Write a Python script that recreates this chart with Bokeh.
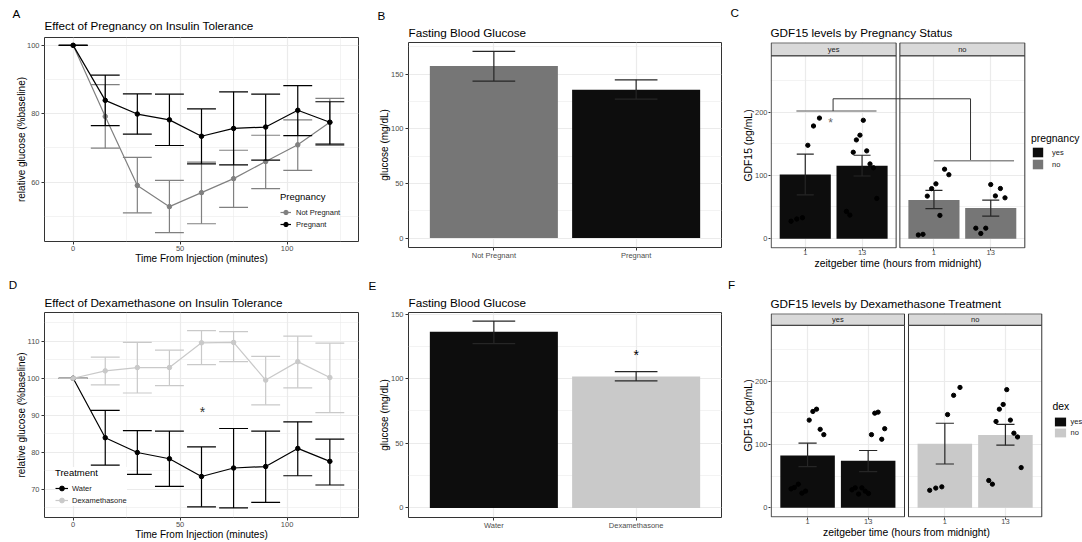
import numpy as np
from bokeh.plotting import figure
from bokeh.models import FixedTicker, Legend, LegendItem, Range1d, Title
from bokeh.layouts import row, column
from bokeh.embed import file_html
from bokeh.resources import INLINE
from bokeh.core.properties import value

FONT = "Liberation Sans"
BLACK = "#0d0d0d"
GREY = "#767676"
LIGHT = "#c9c9c9"
LINE_GREY = "#808080"
ERR = "#262626"

# ---------------- data ----------------
itt_time = [0, 15, 30, 45, 60, 75, 90, 105, 120]
# A: insulin tolerance by pregnancy
itt_preg_mean = [100, 83.9, 79.9, 78.2, 73.4, 75.7, 76.1, 81.0, 77.5]
itt_preg_upper = [100, 91.3, 85.8, 85.7, 81.4, 86.4, 85.7, 88.2, 83.5]
itt_preg_lower = [100, 76.5, 74.0, 70.7, 65.3, 65.0, 66.4, 73.6, 71.1]
itt_notpreg_mean = [100, 79.2, 59.0, 52.8, 56.9, 61.0, 66.0, 70.9, 77.5]
itt_notpreg_upper = [100, 88.5, 67.2, 60.5, 65.8, 69.3, 73.7, 78.2, 84.5]
itt_notpreg_lower = [100, 69.9, 51.0, 45.2, 47.8, 52.6, 58.1, 63.4, 70.7]
# D: insulin tolerance by dexamethasone
itt_water_mean = [100, 83.9, 79.9, 78.2, 73.4, 75.7, 76.1, 81.0, 77.5]
itt_water_upper = [100, 91.3, 85.8, 85.7, 81.4, 86.4, 85.7, 88.2, 83.5]
itt_water_lower = [100, 76.5, 74.0, 70.7, 65.2, 64.9, 66.4, 73.6, 71.1]
itt_dex_mean = [100, 102.0, 102.9, 102.9, 109.6, 109.7, 99.5, 104.5, 100.2]
itt_dex_upper = [100, 105.7, 109.7, 107.6, 112.9, 112.6, 105.9, 111.4, 109.5]
itt_dex_lower = [100, 98.2, 96.0, 98.0, 103.7, 104.5, 92.8, 97.4, 90.7]
itt_star_x, itt_star_y = 60.5, 91.7

# B: fasting blood glucose by pregnancy
fbg_preg_groups = ["Not Pregnant", "Pregnant"]
fbg_preg_mean = [157.3, 135.7]
fbg_preg_upper = [170.7, 144.8]
fbg_preg_lower = [143.6, 127.2]
# E: fasting blood glucose by treatment
fbg_dex_groups = ["Water", "Dexamethasone"]
fbg_dex_mean = [136.3, 101.6]
fbg_dex_upper = [144.6, 105.5]
fbg_dex_lower = [127.1, 98.3]
fbg_dex_star_y = 120.4

# C / F: GDF15 by zeitgeber time
zt_labels = ["1", "13"]
facet_labels = ["yes", "no"]
# pregnancy = yes
gdf_preg_yes_mean = [101.3, 115.0]
gdf_preg_yes_upper = [133.7, 131.8]
gdf_preg_yes_lower = [69.2, 99.0]
gdf_preg_yes_zt1_y = [27.5, 31.0, 33.0, 147.5, 178.0, 190.5]
gdf_preg_yes_zt1_dx = [-0.25, -0.15, -0.05, 0.045, 0.145, 0.25]
gdf_preg_yes_zt13_y = [43.0, 37.2, 136.5, 156.0, 163.5, 187.0, 138.7, 118.0, 112.0, 63.5]
gdf_preg_yes_zt13_dx = [-0.275, -0.215, -0.155, -0.1, -0.037, 0.022, 0.082, 0.14, 0.2, 0.26]
# pregnancy = no
gdf_preg_no_mean = [61.2, 48.6]
gdf_preg_no_upper = [76.1, 60.9]
gdf_preg_no_lower = [47.5, 35.7]
gdf_preg_no_zt1_y = [5.8, 6.8, 67.2, 79.0, 86.6, 36.7, 109.7, 101.0]
gdf_preg_no_zt1_dx = [-0.275, -0.193, -0.117, -0.041, 0.035, 0.105, 0.187, 0.263]
gdf_preg_no_zt13_y = [16.5, 8.1, 16.5, 85.5, 67.5, 79.2, 64.5]
gdf_preg_no_zt13_dx = [-0.263, -0.175, -0.088, 0.0, 0.082, 0.17, 0.251]
# dex = yes
gdf_dex_yes_mean = [82.7, 74.3]
gdf_dex_yes_upper = [102.1, 90.6]
gdf_dex_yes_lower = [64.9, 57.1]
gdf_dex_yes_zt1_y = [29.8, 31.9, 37.2, 23.0, 26.2, 138.7, 152.4, 156.0, 124.1, 115.7]
gdf_dex_yes_zt1_dx = [-0.273, -0.219, -0.153, -0.093, -0.033, 0.027, 0.087, 0.148, 0.208, 0.268]
gdf_dex_yes_zt13_y = [28.3, 31.4, 21.5, 31.4, 26.2, 22.5, 115.7, 149.7, 151.3, 108.4, 125.1]
gdf_dex_yes_zt13_dx = [-0.268, -0.213, -0.158, -0.104, -0.049, 0.005, 0.055, 0.109, 0.164, 0.224, 0.273]
# dex = no
gdf_dex_no_mean = [101.3, 115.0]
gdf_dex_no_upper = [133.7, 131.8]
gdf_dex_no_lower = [69.2, 99.0]
gdf_dex_no_zt1_y = [27.5, 31.0, 33.0, 147.5, 178.0, 190.5]
gdf_dex_no_zt1_dx = [-0.25, -0.15, -0.05, 0.045, 0.145, 0.25]
gdf_dex_no_zt13_y = [43.0, 37.2, 136.5, 156.0, 163.5, 187.0, 138.7, 118.0, 112.0, 63.5]
gdf_dex_no_zt13_dx = [-0.275, -0.215, -0.155, -0.1, -0.037, 0.022, 0.082, 0.14, 0.2, 0.26]
# significance annotations in C
brk_yes_x = [0.844, 2.254]
brk_yes_y = 201.6
brk_top_y = 221.0
brk_yes_stem_x = 1.49
brk_no_stem_x = 1.644
brk_no_x = [1.0, 2.41]
brk_no_y = 123.0
gdf_star_x, gdf_star_y = 1.445, 186.9


# ---------------- helpers ----------------
def make_fig(width, height, xr, yr, left, right, top, bottom,
             tag, tag_offset, tag_standoff, title, title_standoff):
    p = figure(width=width, height=height, x_range=xr, y_range=yr,
               output_backend="svg", toolbar_location=None,
               min_border_left=left, min_border_right=right,
               min_border_top=top, min_border_bottom=bottom, title=tag)
    # panel tag (outermost title)
    p.title.text_font = FONT
    p.title.text_font_size = "11.7px"
    p.title.text_font_style = "normal"
    p.title.text_color = "black"
    p.title.align = "left"
    p.title.vertical_align = "middle"
    p.title.offset = tag_offset
    p.title.standoff = tag_standoff
    # plot title (next to the panel)
    t = Title(text=title, text_font=FONT, text_font_size="11.7px", text_font_style="normal",
              text_color="black", align="left", vertical_align="top", offset=0,
              standoff=title_standoff)
    p.add_layout(t, "above")
    p.outline_line_color = "#333333"
    p.outline_line_width = 1
    p.background_fill_color = "white"
    p.border_fill_color = "white"
    for g in (p.xgrid, p.ygrid):
        g.grid_line_color = "#ebebeb"
        g.grid_line_width = 1.2
        g.minor_grid_line_color = "#ebebeb"
        g.minor_grid_line_width = 0.6
    for ax in p.axis:
        ax.axis_line_color = None
        ax.major_tick_line_color = "#333333"
        ax.major_tick_in = 0
        ax.major_tick_out = 3
        ax.minor_tick_in = 0
        ax.minor_tick_out = 0
        ax.major_label_text_font = FONT
        ax.major_label_text_font_size = "7.5px"
        ax.major_label_text_color = "#4d4d4d"
        ax.axis_label_text_font = FONT
        ax.axis_label_text_font_size = "10px"
        ax.axis_label_text_font_style = "normal"
        ax.axis_label_text_color = "black"
    return p


def errorbars(p, x, lo, hi, half, color, width):
    x = np.asarray(x, dtype=float)
    p.segment(x0=x, y0=lo, x1=x, y1=hi, line_color=color, line_width=width)
    p.segment(x0=x - half, y0=hi, x1=x + half, y1=hi, line_color=color, line_width=width)
    p.segment(x0=x - half, y0=lo, x1=x + half, y1=lo, line_color=color, line_width=width)


def star(p, x, y, size, color):
    p.text(x=[x], y=[y], text=["*"], text_font=value(FONT),
           text_font_size=value(f"{size}px"), text_color=color,
           text_align="center", text_baseline="alphabetic", y_offset=0.22 * size)


def itt_series(p, mean, lo, hi, color):
    errorbars(p, itt_time, lo, hi, 6.75, color, 1.2)
    l = p.line(itt_time, mean, line_color=color, line_width=1.2)
    s = p.scatter(itt_time, mean, size=4.5, fill_color=color, line_color=color)
    return [l, s]


def legend_style(lg, title_size):
    lg.title_text_font = FONT
    lg.title_text_font_size = title_size
    lg.title_text_font_style = "normal"
    lg.title_text_color = "black"
    lg.label_text_font = FONT
    lg.label_text_font_size = "7.5px"
    lg.label_text_color = "#1a1a1a"
    lg.border_line_color = None
    lg.margin = 0
    lg.spacing = 0


W1, W2, W3 = 366, 359, 357
H1, H2 = 270, 272

# ---------------- A ----------------
pA = make_fig(W1, H1, Range1d(-13.4, 133.4), Range1d(42.6, 102.3), 44, 8, 37, 29,
              "A", -31.9, -10.0, "Effect of Pregnancy on Insulin Tolerance", 6.6)
pA.xaxis.ticker = FixedTicker(ticks=[0, 50, 100], minor_ticks=[25, 75, 125])
pA.yaxis.ticker = FixedTicker(ticks=[60, 80, 100], minor_ticks=[50, 70, 90])
pA.xaxis.axis_label = "Time From Injection (minutes)"
pA.yaxis.axis_label = "relative glucose (%baseline)"
pA.xaxis.major_label_standoff = 1
pA.xaxis.axis_label_standoff = -1
pA.yaxis.major_label_standoff = 2
pA.yaxis.axis_label_standoff = -3
rA_np = itt_series(pA, itt_notpreg_mean, itt_notpreg_lower, itt_notpreg_upper, LINE_GREY)
rA_p = itt_series(pA, itt_preg_mean, itt_preg_lower, itt_preg_upper, "black")
lgA = Legend(items=[LegendItem(label="Not Pregnant", renderers=rA_np),
                    LegendItem(label="Pregnant", renderers=rA_p)],
             location=(236, 11), title="Pregnancy")
legend_style(lgA, "9.5px")
lgA.padding = 3
lgA.glyph_width = 11
lgA.glyph_height = 12
lgA.label_height = 12
lgA.label_standoff = 5
lgA.title_standoff = 4
lgA.background_fill_color = "white"
lgA.background_fill_alpha = 1
pA.add_layout(lgA)

# ---------------- B ----------------
xb = np.arange(1, len(fbg_preg_groups) + 1)
pB = make_fig(W2, H1, Range1d(0.4, 2.6), Range1d(-8.6, 178.9), 42, 4, 42, 23,
              "B", -30.9, 2.5, "Fasting Blood Glucose", 3.2)
pB.xaxis.ticker = FixedTicker(ticks=list(xb), minor_ticks=[])
pB.xaxis.major_label_overrides = {int(i): g for i, g in zip(xb, fbg_preg_groups)}
pB.yaxis.ticker = FixedTicker(ticks=[0, 50, 100, 150], minor_ticks=[25, 75, 125, 175])
pB.yaxis.axis_label = "glucose (mg/dL)"
pB.xaxis.major_label_standoff = 0
pB.yaxis.major_label_standoff = 2
pB.yaxis.axis_label_standoff = -2
pB.vbar(x=xb, top=fbg_preg_mean, bottom=0, width=0.9, fill_color=[GREY, BLACK], line_color=None)
errorbars(pB, xb, fbg_preg_lower, fbg_preg_upper, 0.15, ERR, 1.2)

# ---------------- C / F facets ----------------
D = 2.265625
XLAB = "zeitgeber time (hours from midnight)"


def facet_fig(width, height, left, top, bottom, panel_px, tag, tag_offset, tag_standoff,
              title, title_standoff, strip_px, panels, colors, xlab_offset):
    fh = height - top - bottom
    fw = width - left
    ybot, ypan = -14.6, 289.0
    ytop = ypan + strip_px * (ypan - ybot) / (fh - strip_px)
    eps_x = 0.012
    eps_y = 1.0
    x_start = 0.4 - eps_x
    upp = ((2.6 + D + eps_x) - x_start) / panel_px
    x_end = x_start + fw * upp
    p = make_fig(width, height, Range1d(x_start, x_end),
                 Range1d(ybot - eps_y, ytop + 0.5), left, 0, top, bottom,
                 tag, tag_offset, tag_standoff, title, title_standoff)
    p.outline_line_color = None
    xz = np.arange(1, len(zt_labels) + 1, dtype=float)
    ticks = [float(v) for v in xz] + [float(v + D) for v in xz]
    p.xaxis.ticker = FixedTicker(ticks=ticks, minor_ticks=[])
    p.xaxis.major_label_overrides = {t: lab for t, lab in zip(ticks, zt_labels + zt_labels)}
    p.yaxis.ticker = FixedTicker(ticks=[0, 100, 200], minor_ticks=[50, 150, 250])
    p.yaxis.axis_label = "GDF15 (pg/mL)"
    p.yaxis.axis_label_text_font_size = "10.4px"
    for ax in p.axis:
        ax.major_tick_out = 2
    p.xaxis.major_label_standoff = -1
    p.yaxis.major_label_standoff = 1
    p.yaxis.axis_label_standoff = -2
    # x axis title, centred under the facet panels
    p.add_layout(Title(text=XLAB, text_font=FONT, text_font_size="10.4px",
                       text_font_style="normal", text_color="black", align="left",
                       vertical_align="middle", offset=xlab_offset, standoff=-1), "below")
    # white gap between facets and white legend area
    p.quad(left=[2.6, 2.6 + D], right=[0.4 + D, x_end + 1], bottom=[ybot - 5] * 2,
           top=[ytop + 5] * 2, fill_color="white", line_color=None)
    bar_renderers = []
    for k, (pan, col) in enumerate(zip(panels, colors)):
        off = k * D
        mean, lo, hi, pts = pan
        xs = xz + off
        r = p.vbar(x=xs, top=mean, bottom=0, width=0.9, fill_color=col, line_color=None)
        bar_renderers.append(r)
        errorbars(p, xs, lo, hi, 0.15, ERR, 1.2)
        for i, (dx, ys) in enumerate(pts):
            p.scatter(xs[i] + np.asarray(dx), ys, size=4.3, fill_color="black", line_color="black")
    return p, bar_renderers, (ybot, ypan, ytop)


def facet_frame(p, lims):
    ybot, ypan, ytop = lims
    lefts = [0.4, 0.4 + D]
    rights = [2.6, 2.6 + D]
    p.quad(left=lefts, right=rights, bottom=[ybot] * 2, top=[ypan] * 2,
           fill_color=None, line_color="#333333", line_width=1)
    p.quad(left=lefts, right=rights, bottom=[ypan] * 2, top=[ytop] * 2,
           fill_color="#d9d9d9", line_color="#333333", line_width=1)
    p.text(x=[(a + b) / 2 for a, b in zip(lefts, rights)], y=[(ypan + ytop) / 2] * 2,
           text=facet_labels, text_font=value(FONT), text_font_size=value("7.5px"),
           text_color="#1a1a1a", text_align="center", text_baseline="middle")


def facet_legend(p, renderers, title, xy, glyph_w, glyph_h, standoff, title_standoff):
    lg = Legend(items=[LegendItem(label=l, renderers=[r]) for l, r in zip(facet_labels, renderers)],
                location=xy, title=title)
    legend_style(lg, "10.4px")
    lg.padding = 0
    lg.glyph_width = glyph_w
    lg.glyph_height = glyph_h
    lg.label_height = glyph_h
    lg.label_standoff = standoff
    lg.title_standoff = title_standoff
    lg.background_fill_alpha = 0
    p.add_layout(lg)


# C
panels_C = [
    (gdf_preg_yes_mean, gdf_preg_yes_lower, gdf_preg_yes_upper,
     [(gdf_preg_yes_zt1_dx, gdf_preg_yes_zt1_y), (gdf_preg_yes_zt13_dx, gdf_preg_yes_zt13_y)]),
    (gdf_preg_no_mean, gdf_preg_no_lower, gdf_preg_no_upper,
     [(gdf_preg_no_zt1_dx, gdf_preg_no_zt1_y), (gdf_preg_no_zt13_dx, gdf_preg_no_zt13_y)]),
]
pC, barsC, limC = facet_fig(W3, H1, 45, 42, 22, 255, "C", -39.9, 8.5,
                            "GDF15 levels by Pregnancy Status", 2.6, 13, panels_C, [BLACK, GREY], 44)
pC.segment(x0=[brk_yes_x[0]], y0=[brk_yes_y], x1=[brk_yes_x[1]], y1=[brk_yes_y],
           line_color="#8c8c8c", line_width=1.6)
pC.line([brk_yes_stem_x, brk_yes_stem_x, D + brk_no_stem_x, D + brk_no_stem_x],
        [brk_yes_y, brk_top_y, brk_top_y, brk_no_y], line_color="#333333", line_width=1)
pC.segment(x0=[D + brk_no_x[0]], y0=[brk_no_y], x1=[D + brk_no_x[1]], y1=[brk_no_y],
           line_color="#8c8c8c", line_width=1.6)
star(pC, gdf_star_x, gdf_star_y, 12, "#666666")
facet_frame(pC, limC)
facet_legend(pC, barsC, "pregnancy", (261, 78), 13, 12, 8, 2)

# ---------------- D ----------------
pD = make_fig(W1, H2, Range1d(-13.4, 133.4), Range1d(62.3, 117.8), 44, 8, 42, 25,
              "D", -35.8, 5.5, "Effect of Dexamethasone on Insulin Tolerance", 3.2)
pD.xaxis.ticker = FixedTicker(ticks=[0, 50, 100], minor_ticks=[25, 75, 125])
pD.yaxis.ticker = FixedTicker(ticks=[70, 80, 90, 100, 110], minor_ticks=[65, 75, 85, 95, 105, 115])
pD.xaxis.axis_label = "Time From Injection (minutes)"
pD.yaxis.axis_label = "relative glucose (%baseline)"
pD.xaxis.major_label_standoff = 1
pD.xaxis.axis_label_standoff = -1
pD.yaxis.major_label_standoff = 2
pD.yaxis.axis_label_standoff = -3
rD_w = itt_series(pD, itt_water_mean, itt_water_lower, itt_water_upper, "black")
rD_d = itt_series(pD, itt_dex_mean, itt_dex_lower, itt_dex_upper, LIGHT)
star(pD, itt_star_x, itt_star_y, 14, "#333333")
lgD = Legend(items=[LegendItem(label="Water", renderers=rD_w),
                    LegendItem(label="Dexamethasone", renderers=rD_d)],
             location=(11, 11), title="Treatment")
legend_style(lgD, "9.5px")
lgD.padding = 3
lgD.glyph_width = 13
lgD.glyph_height = 12
lgD.label_height = 12
lgD.label_standoff = 4
lgD.title_standoff = 4
lgD.background_fill_color = "white"
lgD.background_fill_alpha = 1
pD.add_layout(lgD)

# ---------------- E ----------------
xe = np.arange(1, len(fbg_dex_groups) + 1)
pE = make_fig(W2, H2, Range1d(0.4, 2.6), Range1d(-7.4, 151.2), 42, 4, 42, 25,
              "E", -39.9, 4.0, "Fasting Blood Glucose", 3.2)
pE.xaxis.ticker = FixedTicker(ticks=list(xe), minor_ticks=[])
pE.xaxis.major_label_overrides = {int(i): g for i, g in zip(xe, fbg_dex_groups)}
pE.yaxis.ticker = FixedTicker(ticks=[0, 50, 100, 150], minor_ticks=[25, 75, 125])
pE.yaxis.axis_label = "glucose (mg/dL)"
pE.xaxis.major_label_standoff = 0
pE.yaxis.major_label_standoff = 2
pE.yaxis.axis_label_standoff = -2
pE.vbar(x=xe, top=fbg_dex_mean, bottom=0, width=0.9, fill_color=[BLACK, LIGHT], line_color=None)
errorbars(pE, xe, fbg_dex_lower, fbg_dex_upper, 0.15, ERR, 1.2)
star(pE, float(xe[1]), fbg_dex_star_y, 14, "black")

# ---------------- F ----------------
panels_F = [
    (gdf_dex_yes_mean, gdf_dex_yes_lower, gdf_dex_yes_upper,
     [(gdf_dex_yes_zt1_dx, gdf_dex_yes_zt1_y), (gdf_dex_yes_zt13_dx, gdf_dex_yes_zt13_y)]),
    (gdf_dex_no_mean, gdf_dex_no_lower, gdf_dex_no_upper,
     [(gdf_dex_no_zt1_dx, gdf_dex_no_zt1_y), (gdf_dex_no_zt13_dx, gdf_dex_no_zt13_y)]),
]
pF, barsF, limF = facet_fig(W3, H2, 45, 43, 25, 272, "F", -42.6, 4.7,
                            "GDF15 levels by Dexamethasone Treatment", 4.0, 11.5,
                            panels_F, [BLACK, LIGHT], 52.5)
facet_frame(pF, limF)
facet_legend(pF, barsF, "dex", (282.5, 79), 14, 11, 4, 4)

layout = row(column(pA, pD), column(pB, pE), column(pC, pF))
open("out.html", "w").write(file_html(layout, INLINE))
